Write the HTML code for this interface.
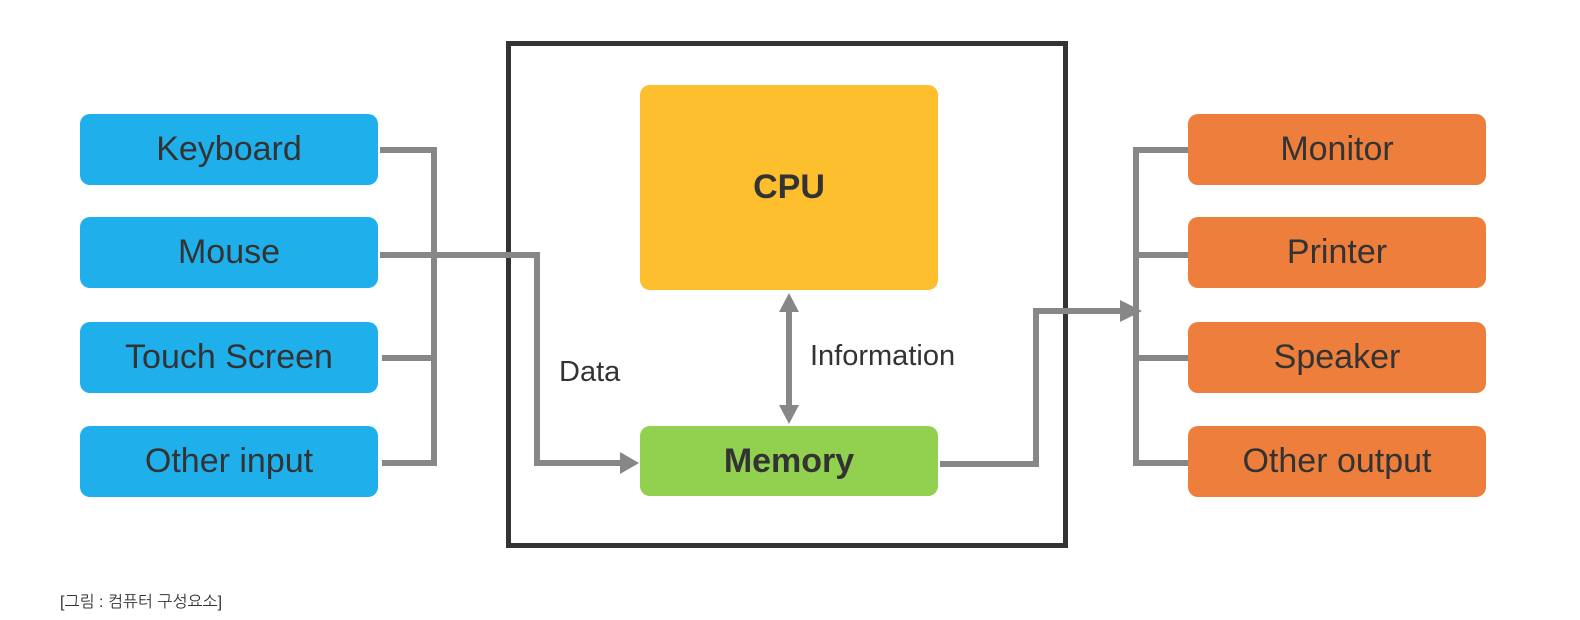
<!DOCTYPE html>
<html><head><meta charset="utf-8"><style>
body{margin:0;width:1580px;height:620px;background:#fff;position:relative;overflow:hidden;font-family:"Segoe UI","Liberation Sans","NanumGothic",sans-serif}
.b{position:absolute;border-radius:10px;display:flex;align-items:center;justify-content:center;font-size:34px;color:#333}
.in{background:#1fb0ec;left:80px;width:298px;height:71px}
.out{background:#ed7e3c;left:1188px;width:298px;height:71px}
</style></head><body>
<div style="position:absolute;left:506px;top:41px;width:552px;height:497px;border:5px solid #333"></div>
<svg width="1580" height="620" style="position:absolute;left:0;top:0">
<g stroke="#878787" stroke-width="6" fill="none">
<polyline points="380,150 434,150 434,463 382,463"/>
<line x1="382" y1="358" x2="434" y2="358"/>
<polyline points="380,255 537,255 537,463 622,463"/>
<line x1="789" y1="308" x2="789" y2="410"/>
<polyline points="940,464 1036,464 1036,311 1122,311"/>
<polyline points="1190,150 1136,150 1136,463 1190,463"/>
<line x1="1136" y1="255" x2="1190" y2="255"/>
<line x1="1136" y1="358" x2="1190" y2="358"/>
</g>
<g fill="#878787">
<polygon points="620,452 639,463 620,474"/>
<polygon points="1120,300 1142,311 1120,322"/>
<polygon points="779,312 789,293 799,312"/>
<polygon points="779,405 789,424 799,405"/>
</g>
</svg>
<div class="b in" style="top:114px">Keyboard</div>
<div class="b in" style="top:217px">Mouse</div>
<div class="b in" style="top:322px">Touch Screen</div>
<div class="b in" style="top:426px">Other input</div>
<div class="b out" style="top:114px">Monitor</div>
<div class="b out" style="top:217px">Printer</div>
<div class="b out" style="top:322px">Speaker</div>
<div class="b out" style="top:426px">Other output</div>
<div class="b" style="left:640px;top:85px;width:298px;height:205px;background:#fdbf2d;font-weight:bold">CPU</div>
<div class="b" style="left:640px;top:426px;width:298px;height:70px;background:#92d050;font-weight:bold">Memory</div>
<div style="position:absolute;left:559px;top:356px;font-size:29px;color:#333">Data</div>
<div style="position:absolute;left:810px;top:340px;font-size:29px;color:#333">Information</div>
<div style="position:absolute;left:60px;top:592px;font-size:16px;color:#333">[그림 : 컴퓨터 구성요소]</div>
</body></html>
